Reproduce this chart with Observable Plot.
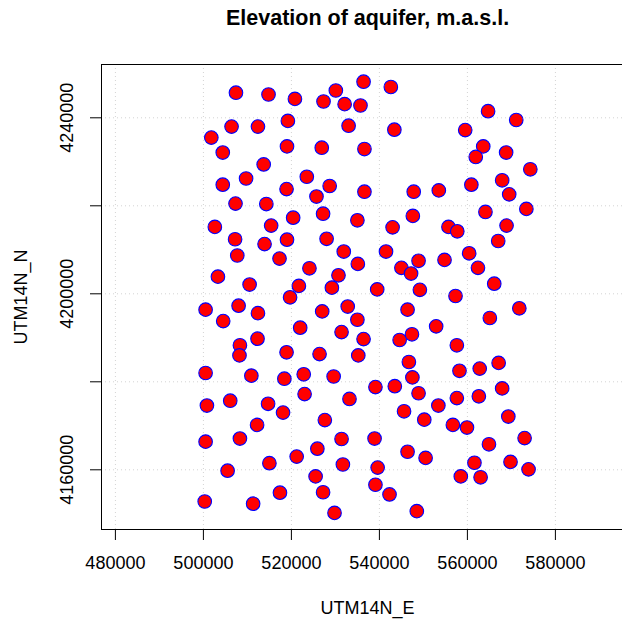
<!DOCTYPE html>
<html>
<head>
<meta charset="utf-8">
<script src="https://cdn.jsdelivr.net/npm/d3@7"></script>
<script src="https://cdn.jsdelivr.net/npm/@observablehq/plot@0.6"></script>
<style>
  html, body { margin: 0; padding: 0; background: #fff; overflow: hidden; }
</style>
</head>
<body>
<div id="chart"></div>
<script>
const titleText = "Elevation of aquifer, m.a.s.l.";
const xTitle = "UTM14N_E";
const yTitle = "UTM14N_N";
const xTicks = [480000, 500000, 520000, 540000, 560000, 580000];
const yTicks = [4160000, 4180000, 4200000, 4220000, 4240000];
const yTickLabels = [4160000, 4200000, 4240000];
const xDomain = [476841, 595250];
const yDomain = [4146432, 4252114];

const easting = [
  507400,514800,520800,527300,530100,532100,535700,536400,506400,512400,519200,533000,501800,504400,519000,526900,536600,513700,504400,509700,523500,528700,518900,525700,536600,507300,514300,
  542600,564700,571100,543400,559500,563600,561900,568800,574300,547800,553500,560900,567900,569500,573400,547600,564100,
  520400,527200,535000,502600,515400,507200,513900,519000,528000,507700,517300,531900,535100,503300,510500,524100,530700,521700,529200,539500,519700,500500,508000,512400,504500,527000,532800,535000,522000,531400,536400,512300,508300,508200,518900,526400,535200,
  543000,555700,557700,568900,567000,541500,548900,545000,547200,554800,560400,562400,566100,549200,557300,546400,571800,565100,552900,544600,547400,557600,546700,567100,
  500500,510900,518400,522800,529600,539100,500800,506100,514700,518100,523000,533200,512200,527600,500500,508300,531400,538900,525900,521200,515000,531700,505500,539600,525500,539100,517400,527200,500300,511300,529800,
  558200,562800,547500,543500,567900,548900,557600,562600,553400,545600,550200,556700,559900,569300,573000,564900,546400,550500,561600,569800,573900,558500,563000,542300,548500
];
const northing = [
  4245700,4245300,4244300,4243700,4246200,4243100,4242800,4248200,4238000,4238000,4239300,4238200,4235500,4232100,4233500,4233200,4232900,4229400,4224800,4226200,4226600,4224500,4223800,4222100,4223200,4220500,4220400,
  4247000,4241500,4239500,4237300,4237200,4233500,4231100,4232100,4228300,4223200,4223500,4224800,4225800,4222600,4219300,4217700,4218600,
  4217300,4218200,4216700,4215200,4215500,4212400,4211300,4212300,4212500,4208700,4208000,4209600,4206800,4203900,4202100,4205800,4204200,4201800,4201400,4201000,4199200,4196400,4197300,4195600,4193800,4196000,4197100,4194100,4192300,4191300,4189700,4189800,4188300,4186000,4186700,4186300,4186000,
  4215100,4215200,4214200,4215500,4212000,4209600,4207500,4205900,4204600,4207700,4209200,4205900,4202300,4200900,4199500,4196400,4196700,4194500,4192600,4189500,4190800,4188300,4184500,4184300,
  4182000,4181400,4180700,4181700,4181200,4178800,4174600,4175700,4175000,4173000,4177200,4176100,4170200,4171300,4166400,4167100,4167000,4167100,4164800,4163000,4161500,4161200,4159800,4160500,4158500,4156600,4154800,4154900,4152800,4152300,4150200,
  4182500,4183000,4181000,4179000,4178500,4177400,4176300,4176700,4174600,4173300,4171400,4170200,4169600,4172100,4167200,4165800,4164100,4162700,4161600,4161800,4160100,4158500,4158300,4154400,4150600
];

const wells = easting.map((e, i) => ({e, n: northing[i]}));
const xCenter = (d3.min(easting) + d3.max(easting)) / 2;
const fmt = d3.format("d");
const font = "'Liberation Sans', Arial, Helvetica, sans-serif";

const chart = Plot.plot({
  width: 622,
  height: 621,
  marginLeft: 101,
  marginRight: 0,
  marginTop: 64,
  marginBottom: 92,
  style: {fontFamily: font, background: "#fff", color: "#000", overflow: "hidden"},
  x: {domain: xDomain},
  y: {domain: yDomain},
  marks: [
    Plot.gridX(xTicks, {stroke: "#d3d3d3", strokeOpacity: 1, strokeDasharray: "1,3"}),
    Plot.gridY(yTicks, {stroke: "#d3d3d3", strokeOpacity: 1, strokeDasharray: "1,3"}),
    Plot.dot(wells, {x: "e", y: "n", r: 6.8, fill: "red", stroke: "blue", strokeWidth: 1.1}),
    Plot.ruleX([xDomain[0]], {stroke: "#000"}),
    Plot.ruleY(yDomain, {stroke: "#000"}),
    Plot.axisX({ticks: xTicks, tickSize: 11, tickFormat: () => "", label: null, stroke: "#000"}),
    Plot.axisY({ticks: yTicks, tickSize: 11, tickFormat: () => "", label: null, stroke: "#000"}),
    Plot.text(xTicks, {x: d => d, text: d => fmt(d), frameAnchor: "bottom", dy: 34, lineAnchor: "middle", fontSize: 18, fill: "#000"}),
    Plot.text(yTickLabels, {y: d => d, text: d => fmt(d), frameAnchor: "left", dx: -34, rotate: -90, lineAnchor: "middle", textAnchor: "middle", fontSize: 18, fill: "#000"}),
    Plot.text([xTitle], {x: () => xCenter, frameAnchor: "bottom", dy: 79, lineAnchor: "middle", fontSize: 18, fill: "#000"}),
    Plot.text([yTitle], {frameAnchor: "left", dx: -80, rotate: -90, lineAnchor: "middle", textAnchor: "middle", fontSize: 18, fill: "#000"}),
    Plot.text([titleText], {x: () => xCenter, frameAnchor: "top", dy: -46, lineAnchor: "middle", fontSize: 21.5, fontWeight: "bold", fill: "#000"})
  ]
});
document.getElementById("chart").appendChild(chart);
</script>
</body>
</html>
